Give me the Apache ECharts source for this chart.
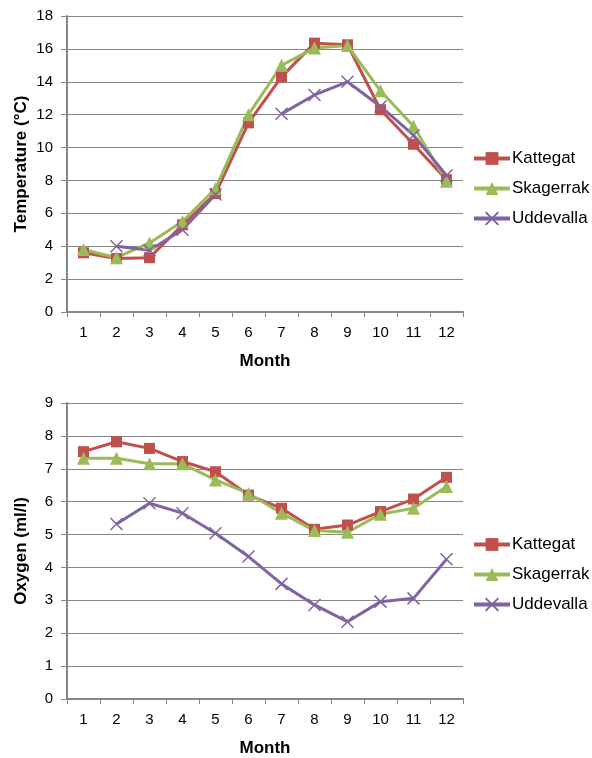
<!DOCTYPE html>
<html><head><meta charset="utf-8">
<script src="https://cdn.jsdelivr.net/npm/echarts@6/dist/echarts.min.js"></script>
<style>html,body{margin:0;padding:0;background:#fff;overflow:hidden}#c{width:592px;height:758px}</style>
</head><body><div id="c"></div>
<script>
var months = ['1','2','3','4','5','6','7','8','9','10','11','12'];
var seriesNames = ['Kattegat','Skagerrak','Uddevalla'];
var tempKattegat = [3.6, 3.25, 3.3, 5.3, 7.2, 11.5, 14.3, 16.35, 16.25, 12.3, 10.2, 8.05];
var tempSkagerrak = [3.8, 3.3, 4.2, 5.5, 7.5, 12.0, 15.0, 16.05, 16.2, 13.45, 11.3, 7.95];
var tempUddevalla = [null, 4.0, 3.75, 5.0, 7.15, null, 12.05, 13.2, 14.0, 12.5, 10.75, 8.3];
var oxyKattegat = [7.52, 7.82, 7.62, 7.22, 6.91, 6.2, 5.8, 5.16, 5.29, 5.7, 6.08, 6.74];
var oxySkagerrak = [7.32, 7.32, 7.15, 7.15, 6.66, 6.25, 5.65, 5.12, 5.07, 5.62, 5.8, 6.46];
var oxyUddevalla = [null, 5.32, 5.95, 5.65, 5.04, 4.33, 3.5, 2.86, 2.35, 2.96, 3.06, 4.25];

var colors = ['#C0504D', '#9BBB59', '#8064A2'];
var symbols = ['rect', 'triangle', 'path://M0,0L10,10M10,0L0,10'];
var symbolSizes = [11, 13, 12];
var font = 'Liberation Sans, Arial, sans-serif';
var gridC = '#868686';

function xAx(gi) {
  return {
    type: 'category', gridIndex: gi, data: months, boundaryGap: true,
    name: 'Month', nameLocation: 'middle', nameGap: 41, nameMoveOverlap: false,
    nameTextStyle: {fontFamily: font, fontSize: 17, fontWeight: 'bold', color: '#000'},
    axisLine: {lineStyle: {color: gridC, width: 2}},
    axisTick: {show: true, length: 5, alignWithLabel: false, lineStyle: {color: gridC, width: 1}},
    axisLabel: {fontFamily: font, fontSize: 15, color: '#000', margin: 13},
    splitLine: {show: false}
  };
}
function yAx(gi, max, name) {
  return {
    type: 'value', gridIndex: gi, min: 0, max: max, interval: max === 18 ? 2 : 1,
    name: name, nameLocation: 'middle', nameGap: 37, nameMoveOverlap: false,
    nameTextStyle: {fontFamily: font, fontSize: 17, fontWeight: 'bold', color: '#000'},
    axisLine: {show: true, lineStyle: {color: gridC, width: 2}},
    axisTick: {show: true, length: 6, lineStyle: {color: gridC, width: 1}},
    axisLabel: {fontFamily: font, fontSize: 15, color: '#000', margin: 14},
    splitLine: {show: true, lineStyle: {color: gridC, width: 1}}
  };
}
function mk(gi, idx, data) {
  return {
    name: seriesNames[idx], type: 'line', xAxisIndex: gi, yAxisIndex: gi, data: data,
    connectNulls: false, symbol: symbols[idx], symbolSize: symbolSizes[idx], showAllSymbol: true,
    lineStyle: {color: colors[idx], width: 3},
    itemStyle: {color: colors[idx], borderColor: colors[idx], borderWidth: idx === 2 ? 1.5 : 0},
    emphasis: {disabled: true}, animation: false
  };
}
function legend(top) {
  return {
    orient: 'vertical', left: 472, top: top, padding: 0, itemGap: 13, itemWidth: 36, itemHeight: 16,
    textStyle: {fontFamily: font, fontSize: 17, color: '#000', padding: [0,0,0,-3]},
    lineStyle: {width: 4},
    data: seriesNames
  };
}
var chart = echarts.init(document.getElementById('c'), null, {renderer: 'canvas'});
chart.setOption({
  animation: false,
  grid: [
    {left: 67, top: 16, width: 396, height: 296, outerBoundsMode: 'none'},
    {left: 67, top: 403, width: 396, height: 296, outerBoundsMode: 'none'}
  ],
  xAxis: [xAx(0), xAx(1)],
  yAxis: [yAx(0, 18, 'Temperature (°C)'), yAx(1, 9, 'Oxygen (ml/l)')],
  legend: [legend(150), legend(536)],
  series: [
    mk(0, 0, tempKattegat), mk(0, 1, tempSkagerrak), mk(0, 2, tempUddevalla),
    mk(1, 0, oxyKattegat), mk(1, 1, oxySkagerrak), mk(1, 2, oxyUddevalla)
  ]
});
</script></body></html>
